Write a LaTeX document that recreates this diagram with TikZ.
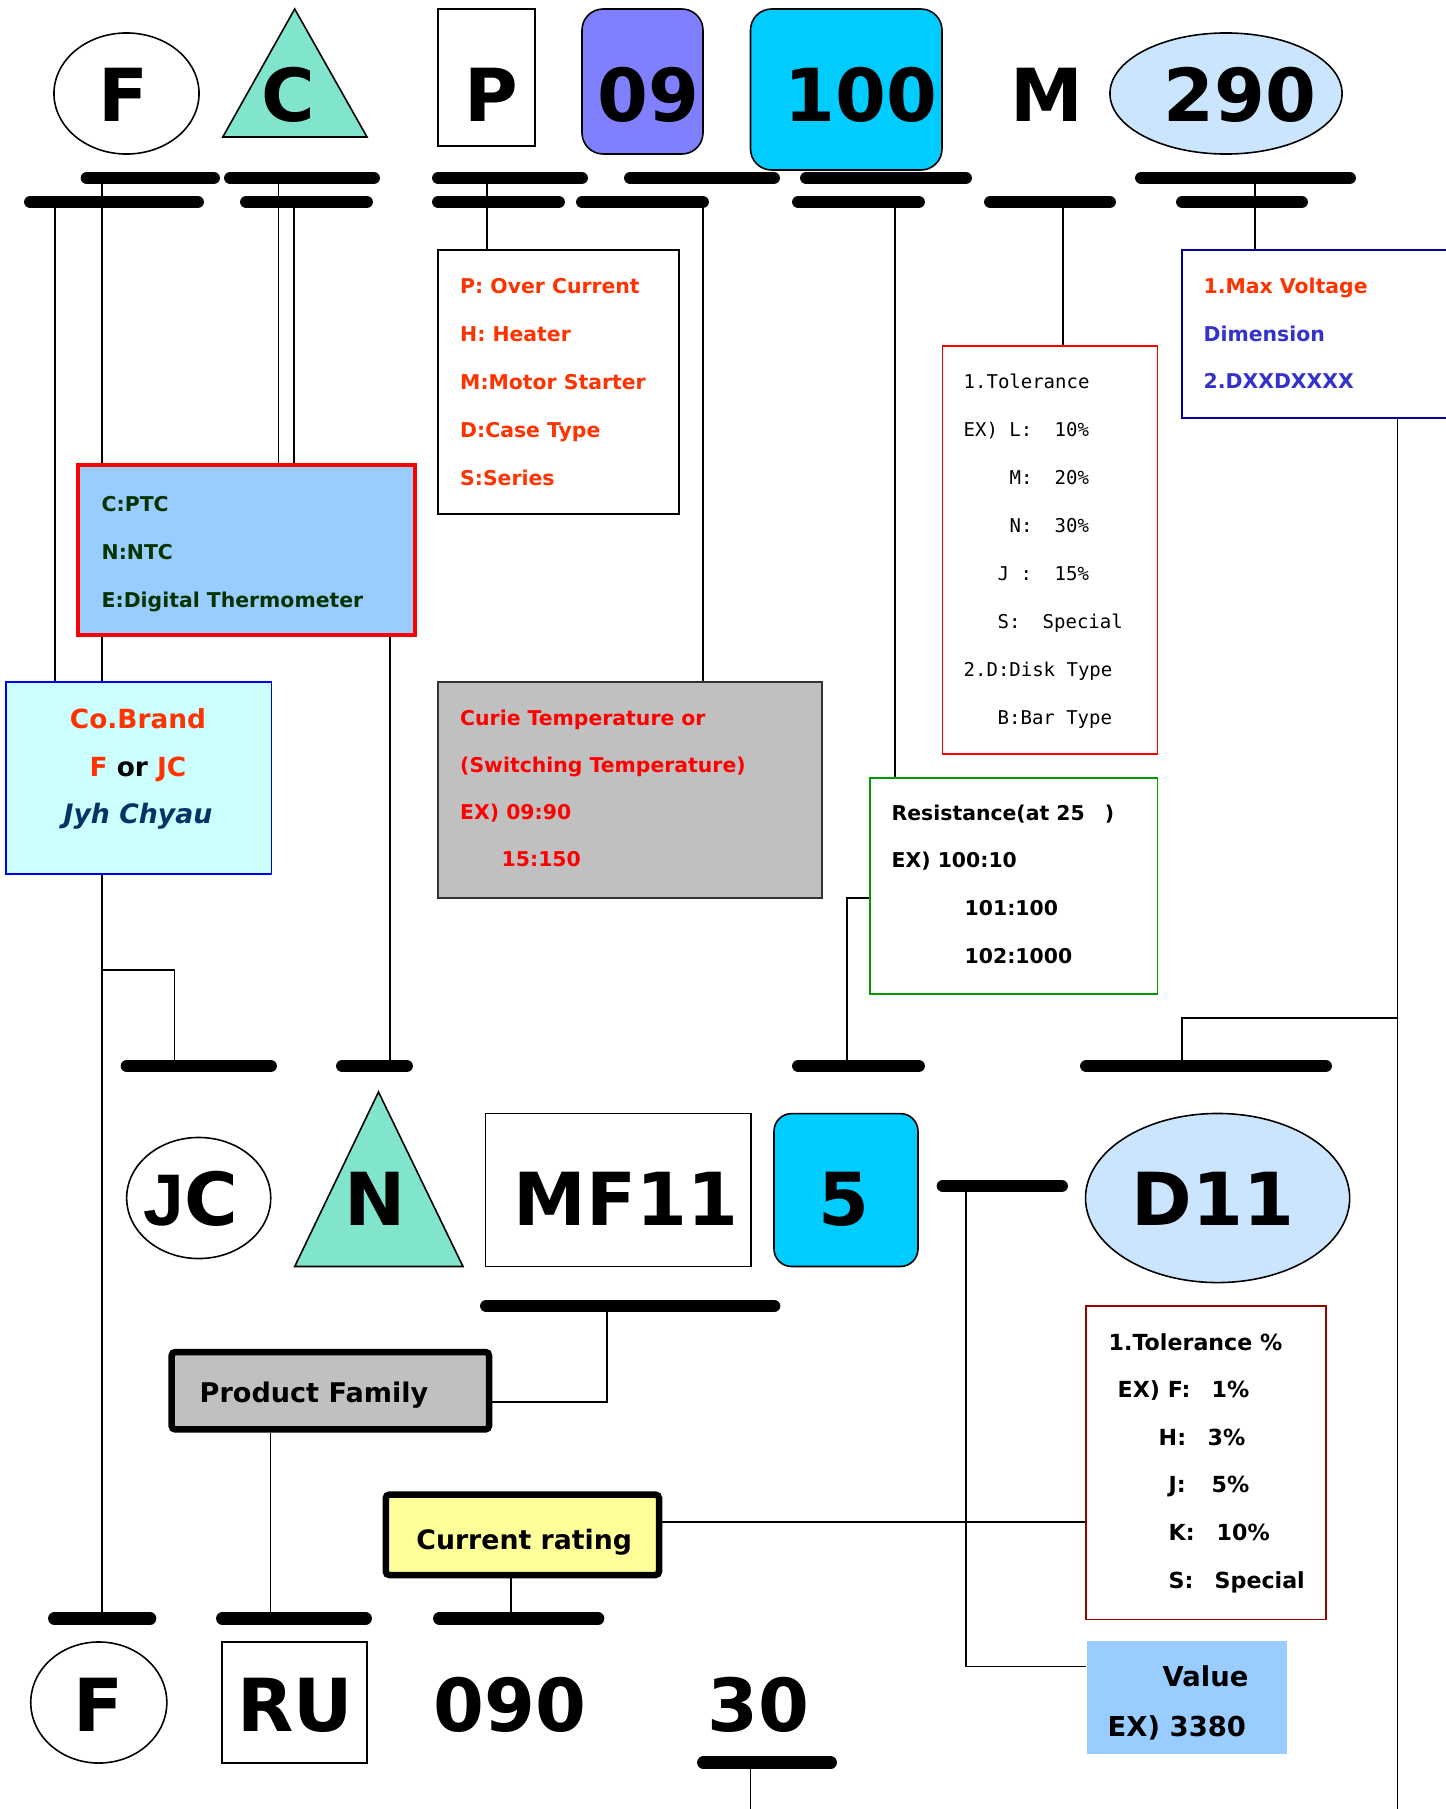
\documentclass[tikz,border=0pt]{standalone}
\usepackage{fontspec}
\setmainfont{DejaVu Sans}
\newfontfamily\monofnt{DejaVu Sans Mono}
\newfontfamily\arialfnt{Liberation Sans}
\usetikzlibrary{shapes.geometric,fit}

\definecolor{tealfill}{RGB}{128,229,204}
\definecolor{violetfill}{RGB}{128,128,255}
\definecolor{cyanfill}{RGB}{0,204,255}
\definecolor{paleblue}{RGB}{204,229,255}
\definecolor{skyfill}{RGB}{153,204,255}
\definecolor{icefill}{RGB}{204,255,255}
\definecolor{greyfill}{RGB}{192,192,192}
\definecolor{lemonfill}{RGB}{255,255,153}
\definecolor{orangered}{RGB}{255,51,0}
\definecolor{indigotxt}{RGB}{51,51,204}
\definecolor{forest}{RGB}{0,51,0}
\definecolor{navytxt}{RGB}{0,51,102}
\definecolor{navyline}{RGB}{0,0,153}
\definecolor{brickline}{RGB}{153,0,0}
\definecolor{greenline}{RGB}{0,153,0}

\tikzset{
	wire/.style={line width=0.45pt},
	codebar/.style={line width=3.6pt, line cap=round},
	frame/.style={draw, inner sep=0pt, line width=0.45pt, fill=white},
	bigtxt/.style={inner sep=0pt, anchor=base, font=\fontsize{20.8}{25}\selectfont\bfseries},
	smalltxt/.style={inner sep=0pt, anchor=base west, font=\fontsize{5.8}{7}\selectfont\bfseries},
	monotxt/.style={inner sep=0pt, anchor=base west, font=\fontsize{5.4}{7}\selectfont\monofnt},
	midtxt/.style={inner sep=0pt, anchor=base west, font=\fontsize{7.7}{9}\selectfont\bfseries},
}

\begin{document}
\begin{tikzpicture}[x=0.01cm, y=-0.01cm]
				%%%%% START %%%%%
				\useasboundingbox (0,0) rectangle (1445,1809);
				
				% points on the bars
				\coordinate (fa) at (55,202);
				\coordinate (fb) at (102,178);
				\coordinate (ca) at (278.5,178);
				\coordinate (cb) at (294,202);
				\coordinate (pa) at (487,178);
				\coordinate (na) at (703,202);
				\coordinate (ra) at (895,202);
				\coordinate (ma) at (1063,202);
				\coordinate (va) at (1255,178);
				\coordinate (jcj) at (102,970);
				\coordinate (jcb) at (174.5,1066);
				\coordinate (nb) at (390,1066);
				\coordinate (rb) at (847,1066);
				\coordinate (dj) at (1397.5,1018);
				\coordinate (db) at (1182,1066);
				\coordinate (rr) at (1397.5,1809);
				\coordinate (fbot) at (102,1618.5);
				\coordinate (mfb) at (607,1306);
				\coordinate (rub) at (270.7,1618.5);
				\coordinate (nob) at (511,1618.5);
				\coordinate (vb) at (966,1186);
				\coordinate (tb) at (750.5,1762.6);
				\coordinate (tbe) at (750.5,1809);
				
				% boxes
				\node[frame, fit={(438,250) (679,514)}] (ptype) {};
				\node[frame, fit={(78,465) (415,635)}, draw=red, line width=1pt, fill=skyfill] (ptc) {};
				\node[frame, fit={(6,682) (271.6,874)}, draw=blue, line width=0.4pt, fill=icefill] (cobrand) {};
				\node[frame, fit={(438,682) (822,898)}, draw=black!80, line width=0.5pt, fill=greyfill] (curie) {};
				\node[frame, fit={(942.5,346) (1157.5,754)}, draw=red, line width=0.4pt] (tol) {};
				\node[frame, fit={(1182,250) (1470,418)}, draw=navyline, line width=0.5pt] (maxv) {};
				\node[frame, fit={(870,778) (1157.5,994)}, draw=greenline] (res) {};
				\node[frame, fit={(1086,1306) (1326,1619.5)}, draw=brickline] (tol2) {};
				\node[frame, fit={(1087,1641) (1287,1754)}, draw=none, fill=skyfill] (val) {};
				\node[frame, fit={(171.7,1352) (489,1429.4)}, line width=1.85pt, rounded corners=1pt, fill=greyfill] (pf) {};
				\node[frame, fit={(385.8,1494.6) (659,1575)}, line width=1.85pt, rounded corners=1pt, fill=lemonfill] (cr) {};
				\coordinate (rj) at ([yshift=-0.12cm]res.west);
				\coordinate (pfj) at ([yshift=-0.11cm]pf.east);
				\coordinate (crj) at ([yshift=0.13cm]cr.east);
				\coordinate (vj) at ([yshift=0.31cm]val.west);
				
				% connectors
				\draw[wire] (fa) -- (fa |- cobrand.north);
				\draw[wire] (fb) -- (fb |- ptc.north);
				\draw[wire] (fb |- ptc.south) -- (fb |- cobrand.north);
				\draw[wire] (fb |- cobrand.south) -- (fbot);
				\draw[wire] (jcj) -| (jcb);
				\draw[wire] (ca) -- (ca |- ptc.north);
				\draw[wire] (cb) -- (cb |- ptc.north);
				\draw[wire] (pa) -- (pa |- ptype.north);
				\draw[wire] (na) -- (na |- curie.north);
				\draw[wire] (ra) -- (ra |- res.north);
				\draw[wire] (ma) -- (ma |- tol.north);
				\draw[wire] (va) -- (va |- maxv.north);
				\draw[wire] (nb |- ptc.south) -- (nb);
				\draw[wire] (rj) -| (rb);
				\draw[wire] (rr |- maxv.south) -- (rr);
				\draw[wire] (dj) -| (db);
				\draw[wire] (mfb) |- (pfj);
				\draw[wire] (rub |- pf.south) -- (rub);
				\draw[wire] (nob |- cr.south) -- (nob);
				\draw[wire] (crj) -- (crj -| tol2.west);
				\draw[wire] (vb) |- (vj);
				\draw[wire] (tb) -- (tbe);
				
				% bars
				\foreach \xa/\xb/\y in {87/213.6/178, 230.4/373.6/178, 438.4/581.6/178, 630.4/773.6/178, 806.4/965.6/178, 1141.4/1349.6/178,
					30.4/197.6/202, 246.4/366.6/202, 438.4/558.6/202, 582.4/702.6/202, 798.4/918.6/202, 990.4/1109.6/202, 1182.4/1301.6/202,
					127/270.6/1066, 342.4/406.6/1066, 798.4/918.6/1066, 1086.4/1325.6/1066,
					486.4/774/1306, 943/1061.6/1186,
					54.4/150/1618.5, 222.4/365.6/1618.5, 439.4/598/1618.5, 703.4/830.6/1762.6}
					\draw[codebar] (\xa,\y) -- (\xb,\y);
				
				% code symbols, top row
				\node[frame, ellipse, minimum width=1.45cm, minimum height=1.21cm] (f-oval) at (126.5,93.5) {};
				\draw[line width=0.45pt, fill=tealfill] (222.8,137) -- (294.7,9) -- (367,137) -- cycle;
				\node[frame, fit={(438,9) (535,146)}] (p-box) {};
				\node[frame, fit={(582,9) (703,154)}, rounded corners=6pt, fill=violetfill] (t-box) {};
				\node[frame, fit={(750.5,9) (942,170)}, rounded corners=6pt, fill=cyanfill] (r-box) {};
				\node[frame, ellipse, minimum width=2.32cm, minimum height=1.21cm, fill=paleblue] (v-oval) at (1226,93.5) {};
				\node[bigtxt] (lbl-f) at (123,121) {F};
				\node[bigtxt] (lbl-c) at (288,121) {C};
				\node[bigtxt] (lbl-p) at (491,121) {P};
				\node[bigtxt] (lbl-t) at (648,121) {09};
				\node[bigtxt] (lbl-r) at (861,121) {100};
				\node[bigtxt] (lbl-m) at (1047,121) {M};
				\node[bigtxt] (lbl-v) at (1240,121) {290};
				
				% code symbols, second row
				\node[frame, ellipse, minimum width=1.44cm, minimum height=1.21cm] (jc-oval) at (198.7,1198) {};
				\draw[line width=0.45pt, fill=tealfill] (294.7,1266.5) -- (378.5,1092) -- (463,1266.5) -- cycle;
				\node[frame, fit={(485.7,1113.6) (751,1266.5)}] (mf-box) {};
				\node[frame, fit={(774,1113.6) (918,1266.5)}, rounded corners=5pt, fill=cyanfill] (cur-box) {};
				\node[frame, ellipse, minimum width=2.64cm, minimum height=1.69cm, fill=paleblue] (d-oval) at (1217.6,1198) {};
				\node[bigtxt] (lbl-jc) at (191,1225) {{\arialfnt J}C};
				\node[bigtxt] (lbl-n) at (375,1225) {N};
				\node[bigtxt] (lbl-mf) at (626,1225) {MF11};
				\node[bigtxt] (lbl-5) at (843.5,1225) {5};
				\node[bigtxt] (lbl-d) at (1213,1225) {D11};
				
				% code symbols, third row
				\node[frame, ellipse, minimum width=1.36cm, minimum height=1.21cm] (f2-oval) at (98.8,1702.5) {};
				\node[frame, fit={(222,1642) (367,1763)}] (ru-box) {};
				\node[bigtxt] (lbl-f2) at (98.5,1731) {F};
				\node[bigtxt] (lbl-ru) at (295,1731) {RU};
				\node[bigtxt] (lbl-090) at (510,1731) {090};
				\node[bigtxt] (lbl-30) at (758,1731) {30};
				
				% box texts
				\foreach \t [count=\i from 0] in {P: Over Current, H: Heater, M:Motor Starter, D:Case Type, S:Series}
					\node[smalltxt, text=orangered] (ptype-\i) at (459.5,293+48*\i) {\t};
				\foreach \t [count=\i from 0] in {C:PTC, N:NTC, E:Digital Thermometer}
					\node[smalltxt, text=forest] (ptc-\i) at (101,511+48*\i) {\t};
				\node[midtxt, anchor=base, text=orangered, font=\fontsize{7.5}{9}\selectfont\bfseries] (brand-0) at (138,728) {Co.Brand};
				\node[midtxt, anchor=base, font=\fontsize{7.5}{9}\selectfont\bfseries] (brand-1) at (138,776) {\textcolor{orangered}{F} or \textcolor{orangered}{JC}};
				\node[midtxt, anchor=base, text=navytxt, font=\fontsize{7.6}{9}\selectfont\bfseries\itshape] (brand-2) at (138,823) {Jyh Chyau};
				\foreach \x/\t [count=\i from 0] in {459.5/Curie Temperature or, 459.5/(Switching Temperature), 459.5/EX) 09:90, 501/15:150}
					\node[smalltxt, text=red] (curie-\i) at (\x,725+47.3*\i) {\t};
				\foreach \lx/\lab/\vx/\val [count=\i from 0] in {963/1.Tolerance/963/{}, 963/EX) L:/1054/10\%, 1009/M:/1054/20\%, 1009/N:/1054/30\%,
					997/J :/1054/15\%, 997/S:/1042/Special, 963/2.D:Disk Type/963/{}, 997/B:Bar Type/997/{}}
				{
					\node[monotxt] (tol-l\i) at (\lx,388+48*\i) {\lab};
					\node[monotxt] (tol-v\i) at (\vx,388+48*\i) {\val};
				}
				\node[smalltxt, text=orangered] (maxv-0) at (1203,293) {1.Max Voltage};
				\node[smalltxt, text=indigotxt] (maxv-1) at (1203,341) {Dimension};
				\node[smalltxt, text=indigotxt] (maxv-2) at (1203,388) {2.DXXDXXXX};
				\foreach \x/\t [count=\i from 0] in {891/Resistance(at 25\hspace{0.2cm}), 891/EX) 100:10, 964/101:100, 964/102:1000}
					\node[smalltxt] (res-\i) at (\x,820+47.7*\i) {\t};
				\node[midtxt] (pf-txt) at (199,1402) {Product Family};
				\node[midtxt, font=\fontsize{7.6}{9}\selectfont\bfseries] (cr-txt) at (415.7,1549) {Current rating};
				\foreach \lx/\lab/\vx/\val [count=\i from 0] in {1108/1.Tolerance \%/1108/{}, 1117/EX) F:/1211/1\%, 1158/H:/1207/3\%,
					1168/J:/1211/5\%, 1168/K:/1216/10\%, 1168/S:/1214/Special}
				{
					\node[smalltxt, font=\fontsize{6.3}{8}\selectfont\bfseries] (tol2-l\i) at (\lx,1350+47.6*\i) {\lab};
					\node[smalltxt, font=\fontsize{6.3}{8}\selectfont\bfseries] (tol2-v\i) at (\vx,1350+47.6*\i) {\val};
				}
				\node[midtxt, font=\fontsize{7.8}{9}\selectfont\bfseries] (val-0) at (1162,1686) {Value};
				\node[midtxt, font=\fontsize{7.8}{9}\selectfont\bfseries] (val-1) at (1107,1736) {EX) 3380};
				%%%%% END %%%%%
\end{tikzpicture}
\end{document}
